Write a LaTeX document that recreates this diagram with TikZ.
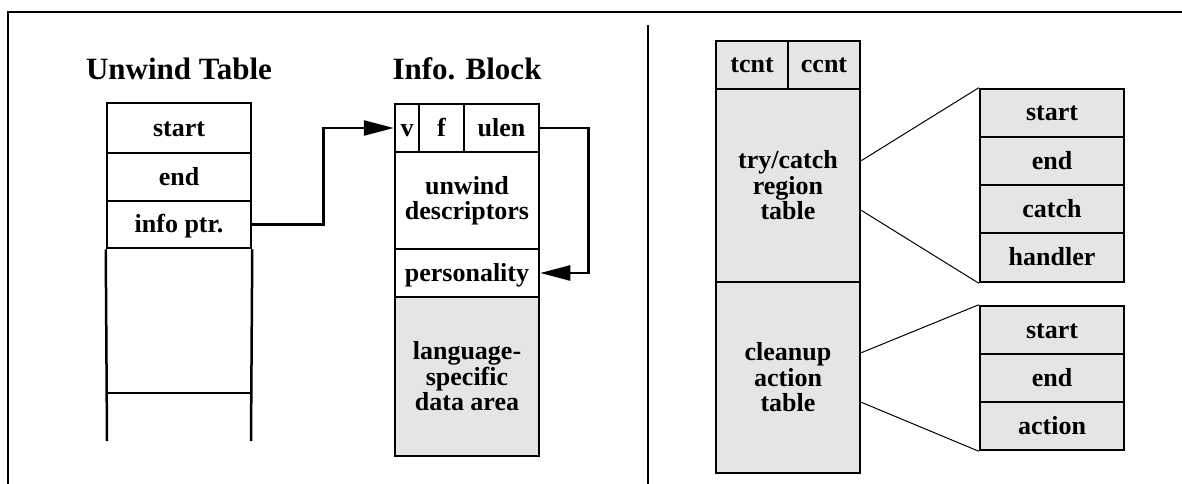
\documentclass[tikz,border=0pt]{standalone}
\usepackage{fontspec}
\setmainfont{Liberation Serif}
\usetikzlibrary{arrows.meta,calc}
\definecolor{cellgray}{HTML}{E5E5E5}
\tikzset{
  cell/.style={draw, line width=2.5pt, inner sep=0pt, align=center,
    font=\bfseries\fontsize{26}{25.5}\selectfont, minimum width=144pt},
  graycell/.style={cell, fill=cellgray},
  oneline/.style={text height=18pt, text depth=2pt},
  title/.style={font=\bfseries\fontsize{31}{34}\selectfont, anchor=base, inner sep=0pt},
  ptr/.style={line width=2.5pt, -{Triangle[length=30pt,width=15pt]}},
  thin/.style={line width=1pt},
  frame/.style={line width=2.8pt},
  openline/.style={line width=2.5pt}
}
\begin{document}
\begin{tikzpicture}[x=1pt,y=-1pt]
\useasboundingbox (0,0) rectangle (1182,484);
% frame and divider
\draw[frame] (8,484) -- (8,12) -- (1182,12);
\draw[frame] (648,25) -- (648,484);
% titles
\node[title] (t1) at (179,80) {Unwind Table};
\node[title] (t2) at (467,80) {Info. Block};
% unwind table
\node[cell, oneline, minimum height=50pt] (ustart) at (179,128) {start};
\node[cell, oneline, minimum height=48pt] (uend) at (179,177) {end};
\node[cell, oneline, minimum height=47pt] (uinfo) at (179,224.5) {info ptr.};
\draw[openline] (107,441) -- (uinfo.south west);
\draw[openline] (251,441) -- (uinfo.south east);
\draw[openline] (107,393) -- (251,393);
% info block
\node[cell, oneline, minimum width=24pt, minimum height=48pt] (v) at (407,128) {v};
\node[cell, oneline, minimum width=45pt, minimum height=48pt] (f) at (441.5,128) {f};
\node[cell, oneline, minimum width=75pt, minimum height=48pt] (ulen) at (501.5,128) {ulen};
\node[cell, minimum height=97pt] (udesc) at (467,200.5) {unwind\\descriptors};
\node[cell, oneline, minimum height=48pt] (pers) at (467,273) {personality};
\node[graycell, minimum height=159pt] (lsda) at (467,376.5) {language-\\specific\\data area};
% arrows
\draw[ptr] (uinfo.east) -- ++(71,0) |- (v.west);
\draw[ptr] (ulen.east) -- ++(48,0) |- (pers.east);
% right side
\node[graycell, oneline, minimum width=72pt, minimum height=48pt] (tcnt) at (752,65) {tcnt};
\node[graycell, oneline, minimum width=72pt, minimum height=48pt] (ccnt) at (824,65) {ccnt};
\node[graycell, minimum height=193pt] (try) at (788,185.5) {try/catch\\region\\table};
\node[graycell, minimum height=191pt] (clean) at (788,377.5) {cleanup\\action\\table};
% try/catch entry
\node[graycell, oneline, minimum height=48pt] (rstart) at (1052,113) {start};
\node[graycell, oneline, minimum height=48pt] (rend) at (1052,161) {end};
\node[graycell, oneline, minimum height=48pt] (rcatch) at (1052,209) {catch};
\node[graycell, oneline, minimum height=49pt] (rhand) at (1052,257.5) {handler};
% cleanup entry
\node[graycell, oneline, minimum height=48pt] (cstart) at (1052,330) {start};
\node[graycell, oneline, minimum height=48pt] (cend) at (1052,378) {end};
\node[graycell, oneline, minimum height=48pt] (cact) at (1052,426) {action};
% expansion lines
\draw[thin] ($(try.north east)!0.373!(try.south east)$) -- (rstart.north west);
\draw[thin] ($(try.north east)!0.627!(try.south east)$) -- (rhand.south west);
\draw[thin] ($(clean.north east)!0.372!(clean.south east)$) -- (cstart.north west);
\draw[thin] ($(clean.north east)!0.628!(clean.south east)$) -- (cact.south west);
\end{tikzpicture}
\end{document}
